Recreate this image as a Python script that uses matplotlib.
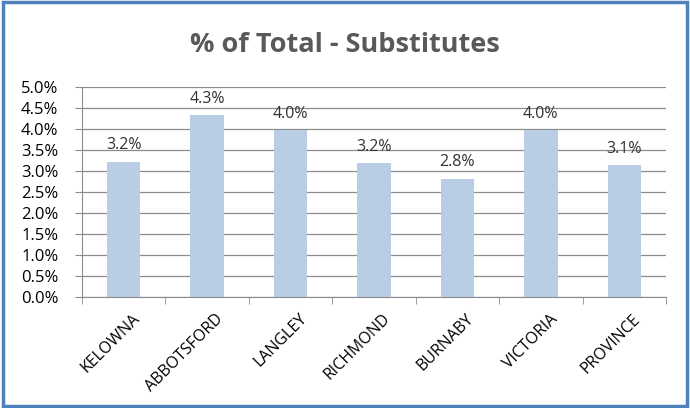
import matplotlib.pyplot as plt
import numpy as np
from matplotlib.patches import Rectangle
from matplotlib.ticker import FuncFormatter

cities = ['KELOWNA', 'ABBOTSFORD', 'LANGLEY', 'RICHMOND', 'BURNABY', 'VICTORIA', 'PROVINCE']
values = [3.22, 4.33, 3.97, 3.19, 2.82, 3.97, 3.14]

plt.rcParams['font.family'] = ['Open Sans', 'DejaVu Sans']

fig = plt.figure(figsize=(6.9, 4.08), dpi=100)
ax = fig.add_axes([82 / 690, 1 - 297 / 408, (666 - 82) / 690, (297 - 87) / 408])

x = np.arange(len(cities))
ax.bar(x, values, width=0.4, color='#B9CDE5', zorder=2)
for xi, v in zip(x, values):
    ax.annotate(f'{v:.1f}%', (xi, v), xytext=(0, 6), textcoords='offset points',
                ha='center', va='bottom', fontsize=11.5, color='#333333')

ax.set_xlim(-0.5, len(cities) - 0.5)
ax.set_ylim(0, 5.0)
ax.set_yticks(np.arange(0, 5.01, 0.5))
ax.yaxis.set_major_formatter(FuncFormatter(lambda v, p: f'{v:.1f}%'))
ax.yaxis.grid(True, color='#8C8C8C', linewidth=0.9, zorder=0)
ax.set_axisbelow(True)

ax.set_xticks(x + 0.1)
ax.set_xticklabels(cities, rotation=45, ha='right', rotation_mode='anchor', fontsize=11.5)
ax.set_xticks(np.arange(-0.5, len(cities)), minor=True)
ax.tick_params(axis='x', which='major', length=0, pad=10)
ax.tick_params(axis='x', which='minor', length=5, color='#8C8C8C')
ax.tick_params(axis='y', length=5, color='#8C8C8C', labelsize=12, pad=12)

for s in ['top', 'right']:
    ax.spines[s].set_visible(False)
for s in ['left', 'bottom']:
    ax.spines[s].set_color('#8C8C8C')

fig.text(0.5, 1 - 45 / 408, '% of Total - Substitutes', ha='center', va='center',
         fontsize=19.5, fontweight='bold', color='#595959')

fig.patches.append(Rectangle((0.004, 0.006), 0.992, 0.988, transform=fig.transFigure,
                             fill=False, edgecolor='#4F81BD', linewidth=2.5))

fig.savefig('out.png', dpi=100)
